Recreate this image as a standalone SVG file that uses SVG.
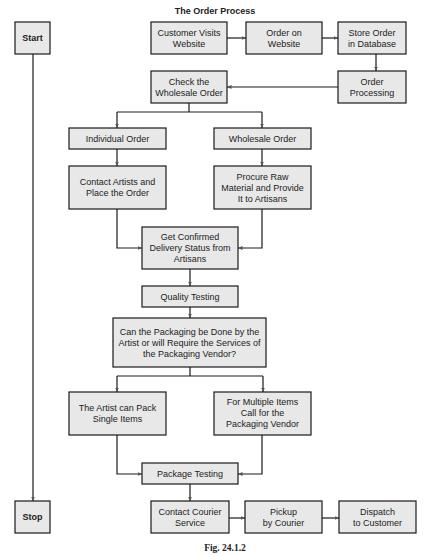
<svg xmlns="http://www.w3.org/2000/svg" width="441" height="555" viewBox="0 0 441 555">
<style>
.b{fill:#e8e8e8;stroke:#1a1a1a;stroke-width:1.2}
.t{font-family:"Liberation Sans",Arial,sans-serif;font-size:9px;fill:#222;text-anchor:middle}
.bold{font-weight:bold}
.c{fill:none;stroke:#1a1a1a;stroke-width:1.2}
</style>
<defs>
<marker id="a" markerUnits="userSpaceOnUse" markerWidth="5" markerHeight="5" refX="4.5" refY="2" orient="auto">
<path d="M0,0 L4.5,2 L0,4 z" fill="#555"/>
</marker>
</defs>
<rect width="441" height="555" fill="#fff"/>
<text class="t bold" x="215" y="14">The Order Process</text>
<g id="connectors">
<path class="c" d="M33 54 V501" marker-end="url(#a)"/>
<path class="c" d="M227 38 H246" marker-end="url(#a)"/>
<path class="c" d="M322 38 H338" marker-end="url(#a)"/>
<path class="c" d="M376 54 V71" marker-end="url(#a)"/>
<path class="c" d="M338 87 H227" marker-end="url(#a)"/>
<path class="c" d="M189 103 V112 M117 112 H262"/>
<path class="c" d="M117 112 V128" marker-end="url(#a)"/>
<path class="c" d="M262 112 V128" marker-end="url(#a)"/>
<path class="c" d="M117 149 V166" marker-end="url(#a)"/>
<path class="c" d="M262 149 V166" marker-end="url(#a)"/>
<path class="c" d="M117 209 V248 H142" marker-end="url(#a)"/>
<path class="c" d="M262 209 V248 H238" marker-end="url(#a)"/>
<path class="c" d="M190 269 V286" marker-end="url(#a)"/>
<path class="c" d="M190 307 V318" marker-end="url(#a)"/>
<path class="c" d="M190 367 V376 M117 376 H263"/>
<path class="c" d="M117 376 V392" marker-end="url(#a)"/>
<path class="c" d="M263 376 V392" marker-end="url(#a)"/>
<path class="c" d="M117 435 V474 H142" marker-end="url(#a)"/>
<path class="c" d="M262 435 V474 H238" marker-end="url(#a)"/>
<path class="c" d="M190 484 V501" marker-end="url(#a)"/>
<path class="c" d="M229 518 H245" marker-end="url(#a)"/>
<path class="c" d="M322 518 H339" marker-end="url(#a)"/>
</g>
<g id="start"><rect class="b" x="15" y="22" width="35" height="32"/><text class="t bold" x="32.5" y="41">Start</text></g>
<g id="stop"><rect class="b" x="15" y="501" width="35" height="32"/><text class="t bold" x="32.5" y="520">Stop</text></g>
<g id="customer"><rect class="b" x="151" y="22" width="76" height="32"/><text class="t" x="189" y="35.5">Customer Visits</text><text class="t" x="189" y="46.5">Website</text></g>
<g id="website"><rect class="b" x="246" y="22" width="76" height="32"/><text class="t" x="284" y="35.5">Order on</text><text class="t" x="284" y="46.5">Website</text></g>
<g id="database"><rect class="b" x="338" y="22" width="68" height="32"/><text class="t" x="372" y="35.5">Store Order</text><text class="t" x="372" y="46.5">in Database</text></g>
<g id="processing"><rect class="b" x="338" y="71" width="68" height="32"/><text class="t" x="372" y="84.5">Order</text><text class="t" x="372" y="95.5">Processing</text></g>
<g id="check"><rect class="b" x="151" y="71" width="76" height="32"/><text class="t" x="189" y="84.5">Check the</text><text class="t" x="189" y="95.5">Wholesale Order</text></g>
<g id="individual"><rect class="b" x="69" y="128" width="97" height="21"/><text class="t" x="117.5" y="141.5">Individual Order</text></g>
<g id="wholesale"><rect class="b" x="214" y="128" width="97" height="21"/><text class="t" x="262.5" y="141.5">Wholesale Order</text></g>
<g id="contact"><rect class="b" x="69" y="166" width="97" height="43"/><text class="t" x="117.5" y="185">Contact Artists and</text><text class="t" x="117.5" y="196">Place the Order</text></g>
<g id="procure"><rect class="b" x="214" y="166" width="97" height="43"/><text class="t" x="262.5" y="179.5">Procure Raw</text><text class="t" x="262.5" y="190.5">Material and Provide</text><text class="t" x="262.5" y="201.5">It to Artisans</text></g>
<g id="confirm"><rect class="b" x="142" y="227" width="96" height="42"/><text class="t" x="190" y="240">Get Confirmed</text><text class="t" x="190" y="251">Delivery Status from</text><text class="t" x="190" y="262">Artisans</text></g>
<g id="quality"><rect class="b" x="142" y="286" width="96" height="21"/><text class="t" x="190" y="299.5">Quality Testing</text></g>
<g id="question"><rect class="b" x="113" y="318" width="153" height="49"/><text class="t" x="189.5" y="334.5">Can the Packaging be Done by the</text><text class="t" x="189.5" y="345.5">Artist or will Require the Services of</text><text class="t" x="189.5" y="356.5">the Packaging Vendor?</text></g>
<g id="artist"><rect class="b" x="69" y="392" width="97" height="43"/><text class="t" x="117.5" y="411">The Artist can Pack</text><text class="t" x="117.5" y="422">Single Items</text></g>
<g id="multiple"><rect class="b" x="214" y="392" width="97" height="43"/><text class="t" x="262.5" y="405">For Multiple Items</text><text class="t" x="262.5" y="416">Call for the</text><text class="t" x="262.5" y="427">Packaging Vendor</text></g>
<g id="pkgtest"><rect class="b" x="142" y="463" width="96" height="21"/><text class="t" x="190" y="476.5">Package Testing</text></g>
<g id="courier"><rect class="b" x="151" y="501" width="78" height="32"/><text class="t" x="190" y="514.5">Contact Courier</text><text class="t" x="190" y="525.5">Service</text></g>
<g id="pickup"><rect class="b" x="245" y="501" width="77" height="32"/><text class="t" x="283.5" y="514.5">Pickup</text><text class="t" x="283.5" y="525.5">by Courier</text></g>
<g id="dispatch"><rect class="b" x="339" y="501" width="77" height="32"/><text class="t" x="377.5" y="514.5">Dispatch</text><text class="t" x="377.5" y="525.5">to Customer</text></g>
<text x="225" y="551" font-family="'Liberation Serif','Times New Roman',serif" font-size="9.5" font-weight="bold" fill="#222" text-anchor="middle">Fig. 24.1.2</text>
</svg>
